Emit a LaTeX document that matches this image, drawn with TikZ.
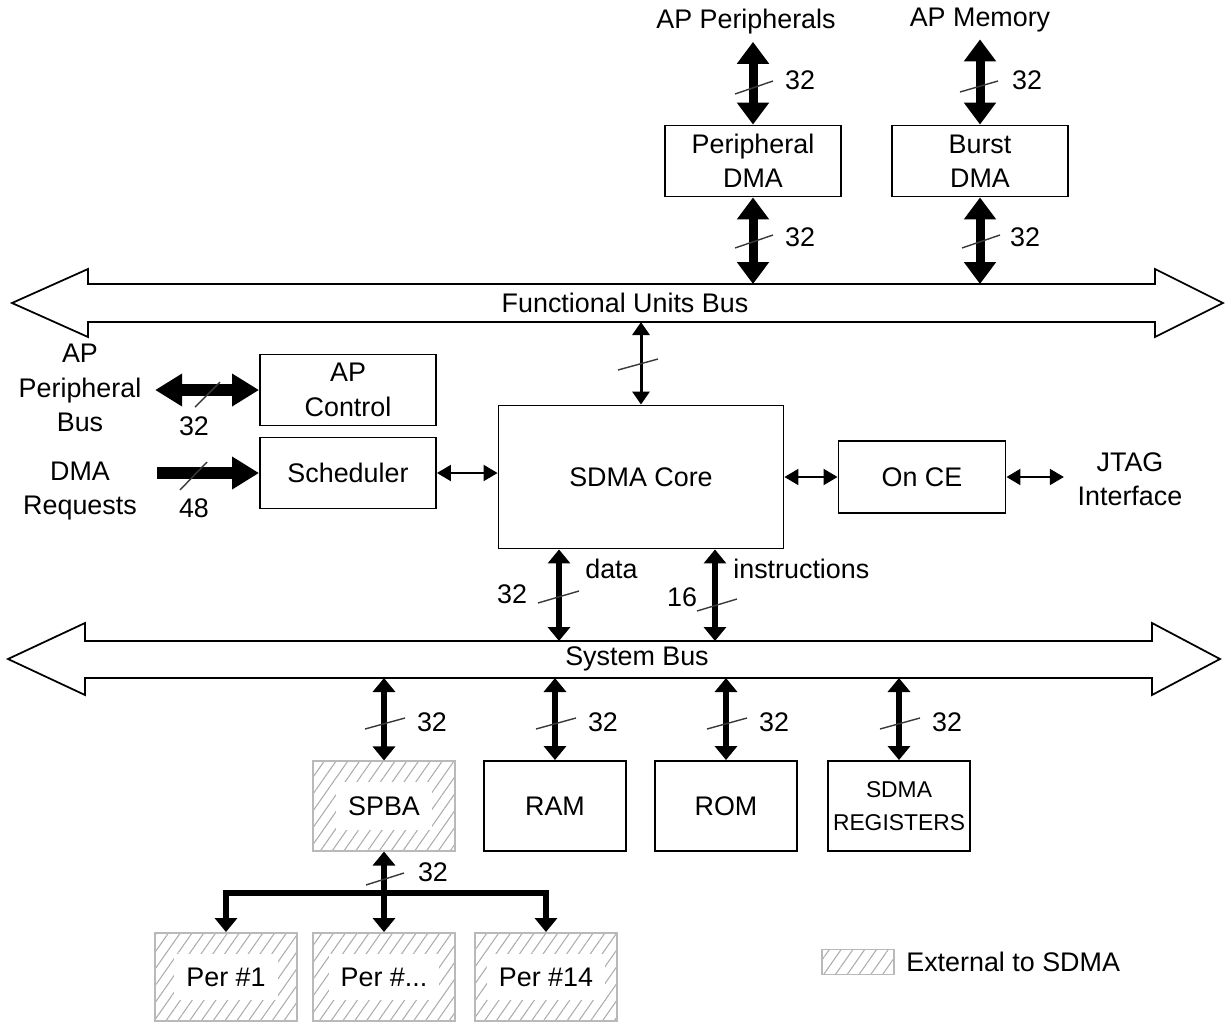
\documentclass[tikz,border=0pt]{standalone}
\usepackage{fontspec}
\setmainfont{Liberation Sans}
\usetikzlibrary{arrows.meta,patterns.meta}

\tikzset{
  blk/.style={draw, line width=1.1pt, align=center, inner sep=0pt},
  ext/.style={draw=gray!55, line width=1.1pt, pattern={Lines[angle=55,distance=5.5pt,line width=0.6pt]}, pattern color=gray!65},
  extname/.style={ext, minimum width=2.84cm, label={[fill=white, inner xsep=0.24cm, inner ysep=0.28cm]center:#1}},
  txt/.style={align=center, inner sep=0pt},
  fat/.style={line width=0.18cm, >={Triangle[length=0.44cm,width=0.62cm]}},
  heavy/.style={line width=0.24cm, >={Triangle[length=0.54cm,width=0.62cm]}},
  mid/.style={line width=0.12cm, >={Triangle[length=0.28cm,width=0.44cm]}},
  thin/.style={line width=0.06cm, >={Triangle[length=0.26cm,width=0.34cm]}},
  tiny/.style={line width=0.04cm, >={Triangle[length=0.28cm,width=0.32cm]}},
  slash/.style={gray!45!black, line width=0.8pt},
  bus/.style={draw, line width=1pt, line join=miter},
}

\begin{document}
\begin{tikzpicture}[x=0.02cm, y=-0.02cm, font=\fontsize{15.3}{19.5}\selectfont]
\useasboundingbox (0,0) rectangle (1225,1022);

% Buses
\draw[bus] (88,284) -- (1155,284) -- (1155,269) -- (1223,303) -- (1155,337) -- (1155,322)
  -- (88,322) -- (88,337) -- (12,303) -- (88,269) -- cycle;
\node[txt] (fub) at (625,303) {Functional Units Bus};
\coordinate (fubtop) at (0,284);
\coordinate (fubbot) at (0,322);

\draw[bus] (85,641) -- (1152,641) -- (1152,623) -- (1220,659) -- (1152,695) -- (1152,678)
  -- (85,678) -- (85,695) -- (8,659) -- (85,623) -- cycle;
\node[txt] (sb) at (637,659) {System Bus};
\coordinate (sbtop) at (0,641);
\coordinate (sbbot) at (0,678);

% AP side
\node[txt] (appl) at (746,22) {AP Peripherals};
\node[txt] (apmem) at (980,20) {AP Memory};
\node[blk, minimum width=3.52cm, minimum height=1.42cm] (pdma) at (753,161) {Peripheral\\DMA};
\node[blk, minimum width=3.52cm, minimum height=1.42cm] (bdma) at (980,161) {Burst\\DMA};

\draw[fat,<->, shorten <=0.14cm] (pdma.north |- appl.south) -- (pdma.north);
\draw[fat,<->, shorten <=0.14cm] (bdma.north |- apmem.south) -- (bdma.north);
\draw[fat,<->] (pdma.south) -- (pdma.south |- fubtop);
\draw[fat,<->] (bdma.south) -- (bdma.south |- fubtop);
\draw[slash] (735,94) -- (773,81);
\draw[slash] (735,248) -- (773,235);
\draw[slash] (960,92) -- (998,81);
\draw[slash] (962,248) -- (1000,235);
\node[txt] (w32a) at (800,80) {32};
\node[txt] (w32b) at (800,237) {32};
\node[txt] (w32c) at (1027,80) {32};
\node[txt] (w32d) at (1025,237) {32};

% Core
\node[blk, minimum width=5.7cm, minimum height=2.86cm] (core) at (641,477) {SDMA Core};
\draw[thin,<->] (core.north |- fubbot) -- (core.north);
\draw[slash] (618,370) -- (658,359);

\node[blk, minimum width=3.52cm, minimum height=1.42cm] (apctl) at (348,390) {AP\\Control};
\node[blk, minimum width=3.52cm, minimum height=1.42cm] (sched) at (348,473) {Scheduler};
\node[blk, minimum width=3.34cm, minimum height=1.44cm] (oce) at (922,477) {On CE};
\node[txt] (jtag) at (1130,479) {JTAG\\Interface};
\node[txt] (apbus) at (80,388) {AP\\Peripheral\\Bus};
\node[txt] (dmareq) at (80,491) {DMA\\Requests};

\draw[heavy,<->, shorten <=0.27cm] (apctl.west -| apbus.east) -- (apctl.west);
\draw[heavy,->, shorten <=0.4cm] (sched.west -| dmareq.east) -- (sched.west);
\draw[slash] (195,407) -- (220,382);
\draw[slash] (180,490) -- (207,462);
\node[txt] (w32e) at (194,426) {32};
\node[txt] (w48) at (194,508) {48};

\draw[tiny,<->] (sched.east) -- (sched.east -| core.west);
\draw[tiny,<->] (core.east |- oce.west) -- (oce.west);
\draw[tiny,<->, shorten >=0.27cm] (oce.east) -- (oce.east -| jtag.west);

\draw[mid,<->] ([xshift=-1.64cm]core.south) -- ([xshift=-1.64cm]core.south |- sbtop);
\draw[mid,<->] ([xshift=1.48cm]core.south) -- ([xshift=1.48cm]core.south |- sbtop);
\draw[slash] (538,603) -- (579,591);
\draw[slash] (697,611) -- (737,599);
\node[txt, anchor=west] (datl) at (585,569) {data};
\node[txt, anchor=west] (insl) at (733,569) {instructions};
\node[txt] (w32f) at (512,594) {32};
\node[txt] (w16) at (682,597) {16};

% System bus clients
\node[extname={SPBA}, minimum height=1.8cm] (spba) at (384,806) {};
\node[blk, minimum width=2.84cm, minimum height=1.8cm] (ram) at (555,806) {RAM};
\node[blk, minimum width=2.84cm, minimum height=1.8cm] (rom) at (726,806) {ROM};
\node[blk, minimum width=2.84cm, minimum height=1.8cm, font=\fontsize{13}{18.7}\selectfont] (sreg) at (899,806) {SDMA\\REGISTERS};

\foreach \n in {spba,ram,rom,sreg}{
  \draw[mid,<->] (\n.north |- sbbot) -- (\n.north);
}
\foreach \x in {384,555,726,899}{
  \draw[slash] (\x-19,729) -- (\x+21,718);
  \node[txt] (w\x) at (\x+48,722) {32};
}

% Peripherals
\node[extname={Per \#1}, minimum height=1.76cm] (per1) at (226,977) {};
\node[extname={Per \#...}, minimum height=1.76cm] (per2) at (384,977) {};
\node[extname={Per \#14}, minimum height=1.76cm] (per3) at (546,977) {};
\coordinate (split) at (384,893);
\draw[mid,<->] (spba.south) -- (per2.north);
\draw[mid,->] (split) -| (per1.north);
\draw[mid,->] (split) -| (per3.north);
\draw[slash] (366,885) -- (404,873);
\node[txt] (w32s) at (433,872) {32};

% Legend
\node[ext, minimum width=1.44cm, minimum height=0.5cm] (leg) at (858,962) {};
\node[txt, anchor=west] (legt) at (906,962) {External to SDMA};

\end{tikzpicture}
\end{document}
